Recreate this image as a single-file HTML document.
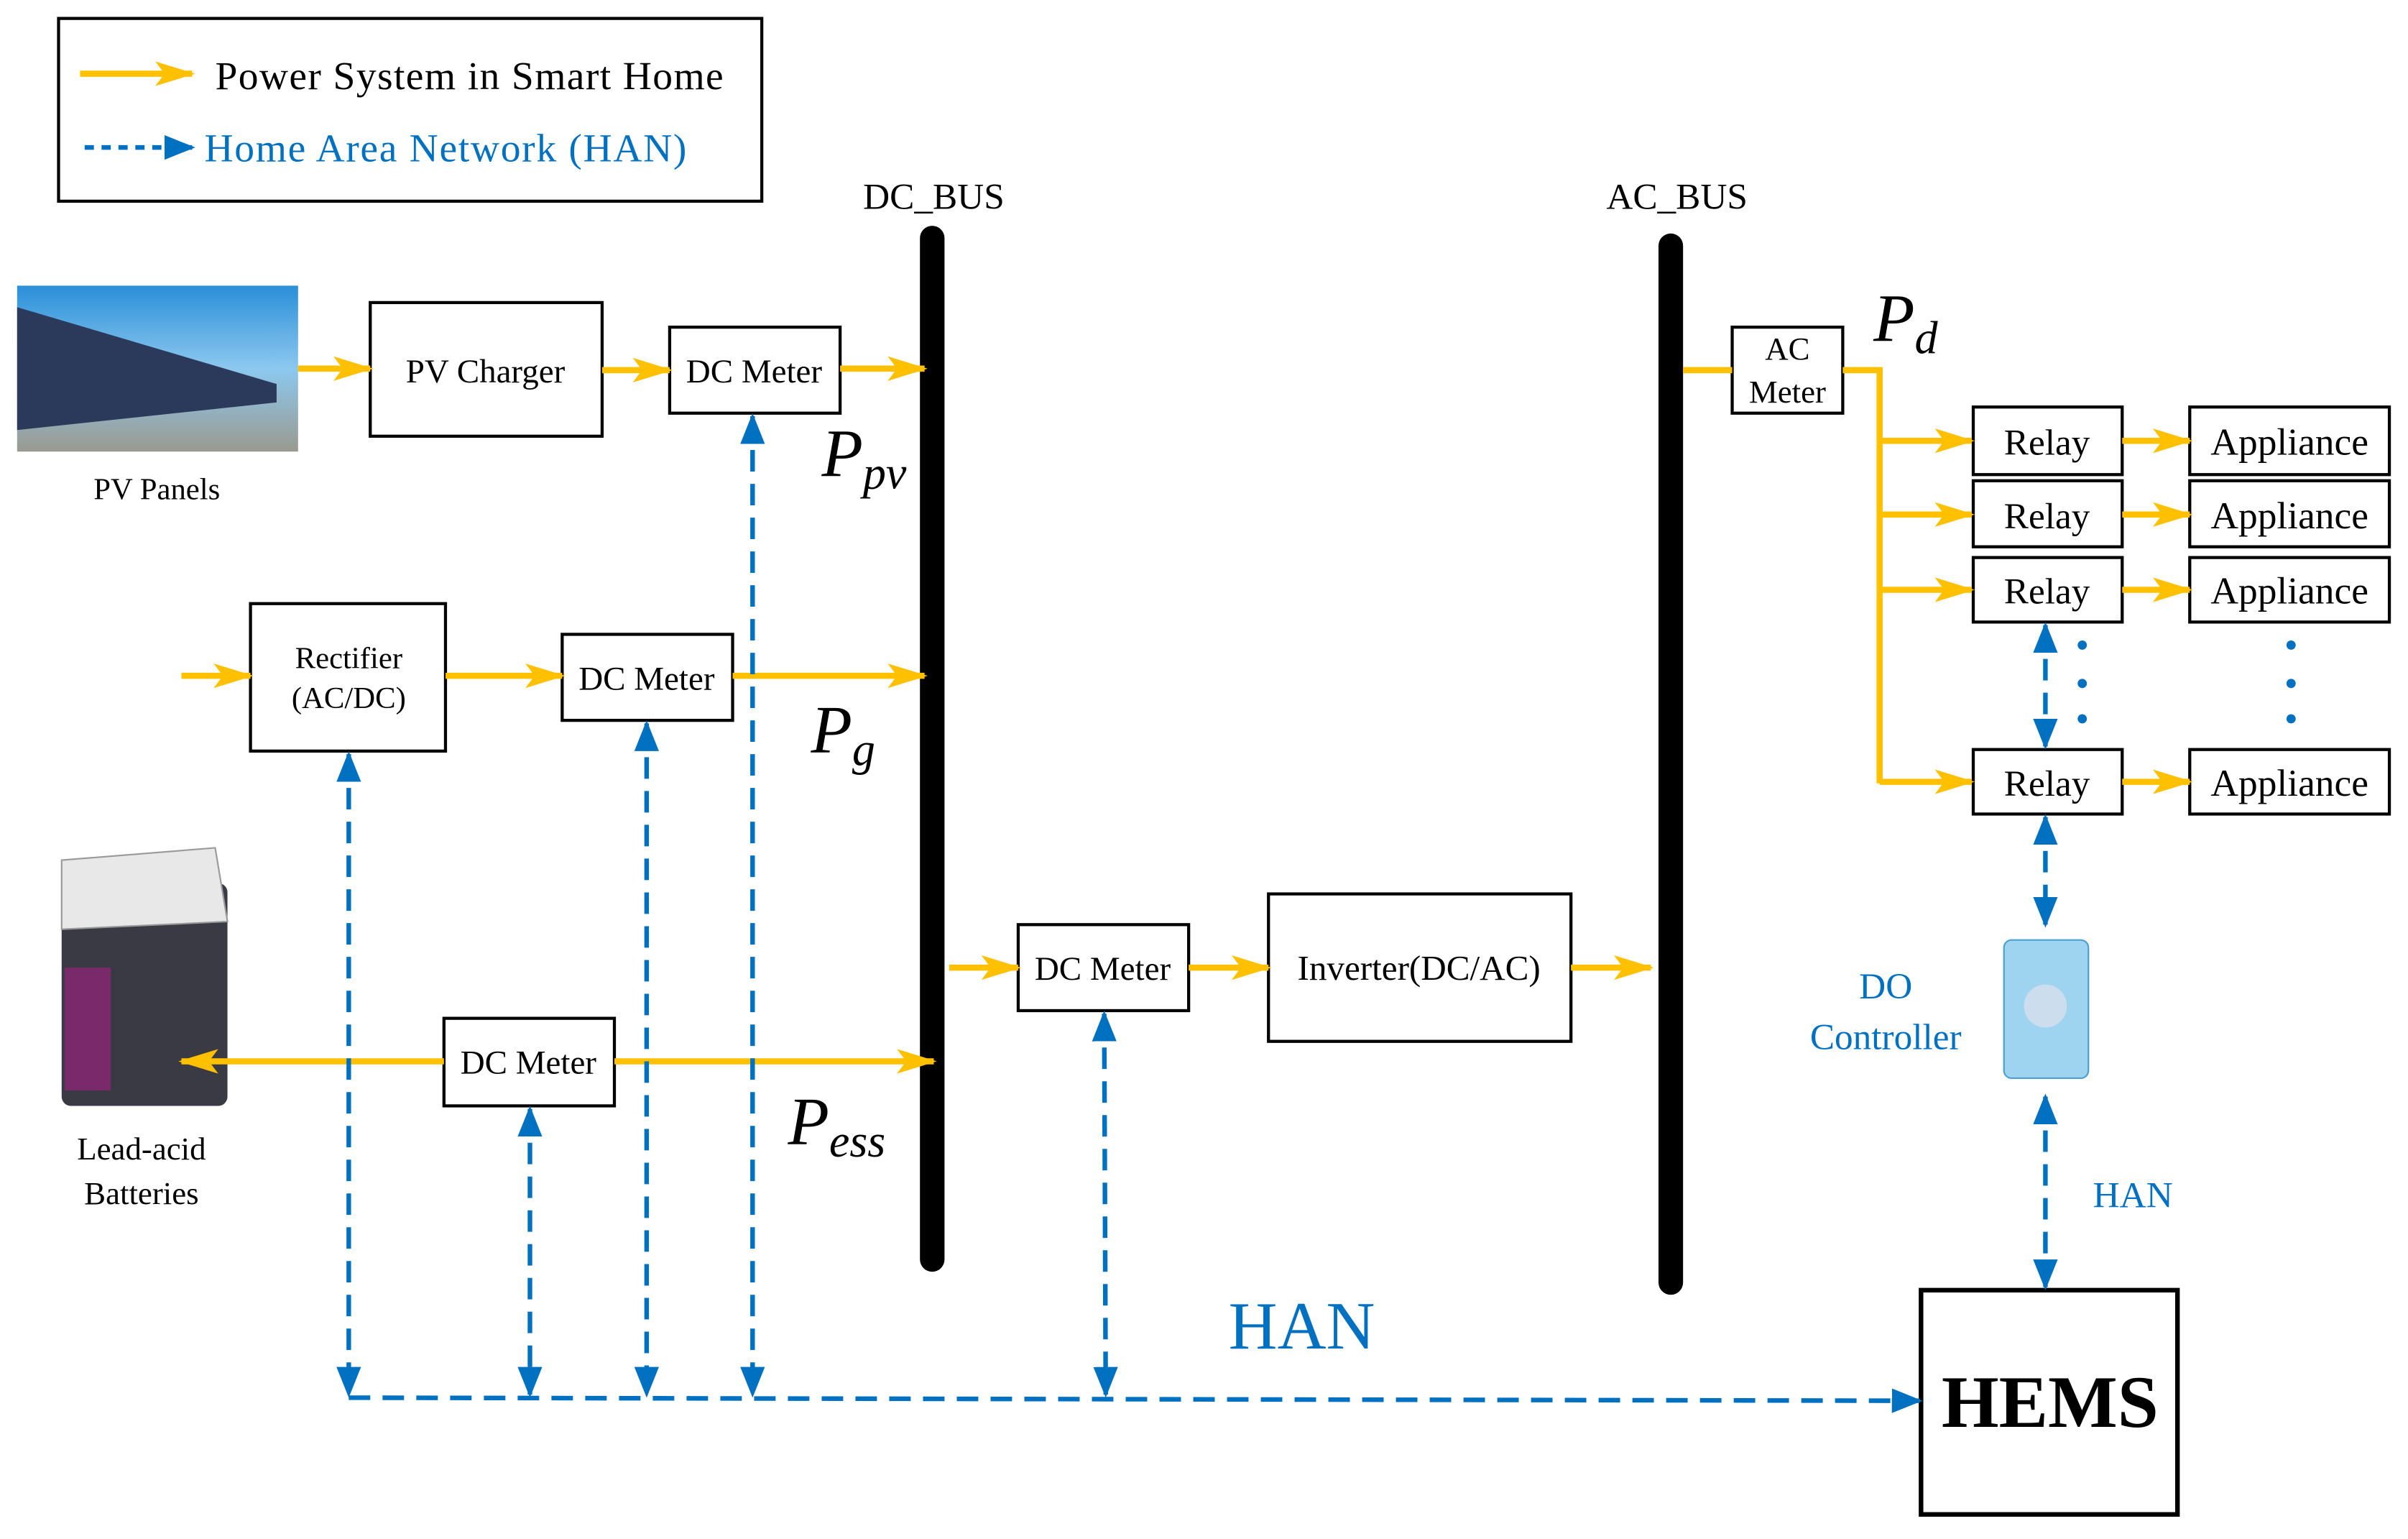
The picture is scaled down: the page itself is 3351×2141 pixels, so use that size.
<!DOCTYPE html>
<html><head><meta charset="utf-8"><style>
html,body{margin:0;padding:0;background:#fff}
svg{display:block}
text{font-family:"Liberation Serif",serif}
</style></head><body>
<svg width="3351" height="2141" viewBox="0 0 1568 1002" xmlns="http://www.w3.org/2000/svg">
<defs>
<marker id="o" markerUnits="userSpaceOnUse" markerWidth="26" markerHeight="20" refX="24" refY="10" orient="auto"><path d="M0,2 L26,10 L0,18 L6,10 Z" fill="#FFC000"/></marker>
<marker id="b" markerUnits="userSpaceOnUse" markerWidth="20" markerHeight="18" refX="18" refY="9" orient="auto"><path d="M0,1 L20,9 L0,17 Z" fill="#0070C0"/></marker>
<marker id="bs" markerUnits="userSpaceOnUse" markerWidth="20" markerHeight="18" refX="2" refY="9" orient="auto"><path d="M20,1 L0,9 L20,17 Z" fill="#0070C0"/></marker>
<linearGradient id="sky" x1="0" y1="0" x2="0" y2="1"><stop offset="0" stop-color="#2a8fd8"/><stop offset="0.5" stop-color="#8cc8ef"/><stop offset="1" stop-color="#9a9a90"/></linearGradient>
</defs>
<g fill="none" stroke="#000" stroke-width="2">
<rect x="38" y="12" width="458" height="119"/>
<rect x="241" y="197" width="151" height="87"/>
<rect x="436" y="213" width="111" height="56"/>
<rect x="163" y="393" width="127" height="96"/>
<rect x="366" y="413" width="111" height="56"/>
<rect x="289" y="663" width="111" height="57"/>
<rect x="663" y="602" width="111" height="56"/>
<rect x="826" y="582" width="197" height="96"/>
<rect x="1128" y="213" width="72" height="56"/>
<rect x="1285" y="265" width="97" height="44"/><rect x="1426" y="265" width="130" height="44"/>
<rect x="1285" y="313" width="97" height="43"/><rect x="1426" y="313" width="130" height="43"/>
<rect x="1285" y="363" width="97" height="42"/><rect x="1426" y="363" width="130" height="42"/>
<rect x="1285" y="488" width="97" height="42"/><rect x="1426" y="488" width="130" height="42"/>
<rect x="1251" y="840" width="167" height="146" stroke-width="3"/>
</g>
<line x1="607" y1="155" x2="607" y2="820" stroke="#000" stroke-width="16" stroke-linecap="round"/>
<line x1="1088" y1="160" x2="1088" y2="835" stroke="#000" stroke-width="16" stroke-linecap="round"/>
<rect x="11" y="186" width="183" height="108" fill="url(#sky)"/>
<path d="M11,200 L180,250 L180,262 L11,280 Z" fill="#2b3a5a"/>
<rect x="40" y="575" width="108" height="145" rx="6" fill="#3a3a44"/>
<path d="M40,560 L140,552 L148,600 L40,605 Z" fill="#e8e8e8" stroke="#999"/>
<rect x="42" y="630" width="30" height="80" fill="#7a2a6a"/>
<rect x="1305" y="612" width="55" height="90" rx="5" fill="#9fd4f0" stroke="#4a9fd0"/>
<circle cx="1332" cy="655" r="14" fill="#cde"/>
<g stroke="#FFC000" stroke-width="4" fill="none">
<line x1="52" y1="48" x2="125" y2="48" marker-end="url(#o)"/>
<line x1="194" y1="240" x2="241" y2="240" marker-end="url(#o)"/>
<line x1="392" y1="241" x2="436" y2="241" marker-end="url(#o)"/>
<line x1="547" y1="240" x2="602" y2="240" marker-end="url(#o)"/>
<line x1="118" y1="440" x2="163" y2="440" marker-end="url(#o)"/>
<line x1="290" y1="440" x2="366" y2="440" marker-end="url(#o)"/>
<line x1="477" y1="440" x2="602" y2="440" marker-end="url(#o)"/>
<line x1="289" y1="691" x2="118" y2="691" marker-end="url(#o)"/>
<line x1="400" y1="691" x2="608" y2="691" marker-end="url(#o)"/>
<line x1="618" y1="630" x2="663" y2="630" marker-end="url(#o)"/>
<line x1="774" y1="630" x2="826" y2="630" marker-end="url(#o)"/>
<line x1="1023" y1="630" x2="1075" y2="630" marker-end="url(#o)"/>
<line x1="1096" y1="241" x2="1128" y2="241"/>
<polyline points="1200,241 1224,241 1224,510"/>
<line x1="1224" y1="287" x2="1284" y2="287" marker-end="url(#o)"/>
<line x1="1224" y1="335" x2="1284" y2="335" marker-end="url(#o)"/>
<line x1="1224" y1="384" x2="1284" y2="384" marker-end="url(#o)"/>
<line x1="1224" y1="509" x2="1284" y2="509" marker-end="url(#o)"/>
<line x1="1382" y1="287" x2="1426" y2="287" marker-end="url(#o)"/>
<line x1="1382" y1="335" x2="1426" y2="335" marker-end="url(#o)"/>
<line x1="1382" y1="384" x2="1426" y2="384" marker-end="url(#o)"/>
<line x1="1382" y1="509" x2="1426" y2="509" marker-end="url(#o)"/>
</g>
<g stroke="#0070C0" stroke-width="3" fill="none" stroke-dasharray="14,8">
<line x1="55" y1="96" x2="125" y2="96" stroke-dasharray="6,5" marker-end="url(#b)"/>
<line x1="227" y1="910" x2="1250" y2="912" marker-end="url(#b)"/>
<line x1="227" y1="491" x2="227" y2="908" marker-start="url(#bs)" marker-end="url(#b)"/>
<line x1="345" y1="722" x2="345" y2="908" marker-start="url(#bs)" marker-end="url(#b)"/>
<line x1="421" y1="471" x2="421" y2="908" marker-start="url(#bs)" marker-end="url(#b)"/>
<line x1="490" y1="271" x2="490" y2="908" marker-start="url(#bs)" marker-end="url(#b)"/>
<line x1="719" y1="660" x2="720" y2="908" marker-start="url(#bs)" marker-end="url(#b)"/>
<line x1="1332" y1="407" x2="1332" y2="486" marker-start="url(#bs)" marker-end="url(#b)"/>
<line x1="1332" y1="532" x2="1332" y2="602" marker-start="url(#bs)" marker-end="url(#b)"/>
<line x1="1332" y1="714" x2="1332" y2="838" marker-start="url(#bs)" marker-end="url(#b)"/>
</g>
<g fill="#0070C0">
<circle cx="1356" cy="420" r="3"/><circle cx="1356" cy="445" r="3"/><circle cx="1356" cy="468" r="3"/>
<circle cx="1492" cy="420" r="3"/><circle cx="1492" cy="445" r="3"/><circle cx="1492" cy="468" r="3"/>
</g>
<g font-size="24" fill="#000">
<text x="140" y="58" font-size="26" textLength="331">Power System in Smart Home</text>
<text x="133" y="105" font-size="26" textLength="314" fill="#0070C0">Home Area Network (HAN)</text>
<text x="562" y="136">DC_BUS</text>
<text x="1046" y="136">AC_BUS</text>
<text x="316" y="249" text-anchor="middle" font-size="22">PV Charger</text>
<text x="491" y="249" text-anchor="middle" font-size="22">DC Meter</text>
<text x="421" y="449" text-anchor="middle" font-size="22">DC Meter</text>
<text x="344" y="699" text-anchor="middle" font-size="22">DC Meter</text>
<text x="718" y="638" text-anchor="middle" font-size="22">DC Meter</text>
<text x="924" y="638" text-anchor="middle" font-size="23">Inverter(DC/AC)</text>
<text x="227" y="435" text-anchor="middle" font-size="20">Rectifier</text>
<text x="227" y="461" text-anchor="middle" font-size="20">(AC/DC)</text>
<text x="1164" y="234" text-anchor="middle" font-size="21">AC</text>
<text x="1164" y="262" text-anchor="middle" font-size="21">Meter</text>
<text x="102" y="325" text-anchor="middle" font-size="20">PV Panels</text>
<text x="92" y="755" text-anchor="middle" font-size="21">Lead-acid</text>
<text x="92" y="784" text-anchor="middle" font-size="21">Batteries</text>
<text x="1333" y="296" text-anchor="middle">Relay</text>
<text x="1333" y="344" text-anchor="middle">Relay</text>
<text x="1333" y="393" text-anchor="middle">Relay</text>
<text x="1333" y="518" text-anchor="middle">Relay</text>
<g font-size="25">
<text x="1491" y="296" text-anchor="middle">Appliance</text>
<text x="1491" y="344" text-anchor="middle">Appliance</text>
<text x="1491" y="393" text-anchor="middle">Appliance</text>
<text x="1491" y="518" text-anchor="middle">Appliance</text>
</g>
<text x="1228" y="650" text-anchor="middle" fill="#0070C0">DO</text>
<text x="1228" y="683" text-anchor="middle" fill="#0070C0">Controller</text>
<text x="1363" y="786" fill="#0070C0">HAN</text>
<text x="800" y="878" font-size="44" fill="#0070C0">HAN</text>
<text x="1335" y="929" text-anchor="middle" font-size="48" font-weight="bold">HEMS</text>
</g>
<g font-style="italic" fill="#000">
<text x="535" y="310" font-size="44">P<tspan font-size="30" dy="8">pv</tspan></text>
<text x="528" y="490" font-size="44">P<tspan font-size="30" dy="8">g</tspan></text>
<text x="513" y="745" font-size="44">P<tspan font-size="30" dy="8">ess</tspan></text>
<text x="1220" y="222" font-size="44">P<tspan font-size="30" dy="8">d</tspan></text>
</g>
</svg>
</body></html>
